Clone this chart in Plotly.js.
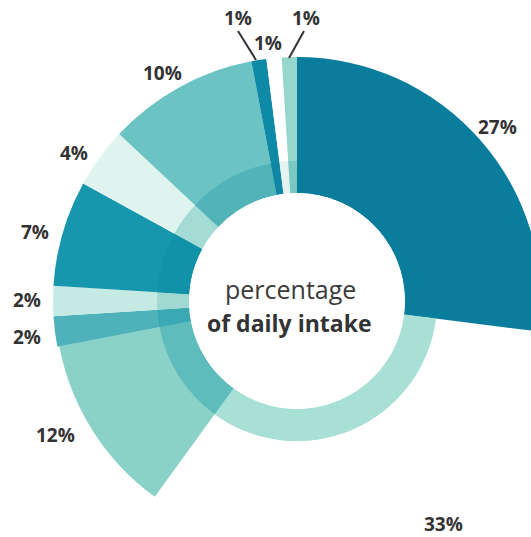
<!DOCTYPE html>
<html>
<head>
<meta charset="utf-8">
<script src="https://cdn.plot.ly/plotly-3.0.1.min.js"></script>
<style>
html,body{margin:0;padding:0;overflow:hidden;background:#fff;width:531px;height:537px;}
#wrap{position:absolute;left:0;top:0;width:531px;height:537px;overflow:hidden;}
#chart{width:560px;height:560px;}
</style>
</head>
<body>
<div id="wrap"><div id="chart"></div></div>
<script>
// Data
const labels = ['27%','33%','12%','2%','2%','7%','4%','10%','1%','1%','1%'];
const percentages = [27,33,12,2,2,7,4,10,1,1,1];
const lengths = [136,32,134,136,136,136,136,136,136,136,136];
const outerColors = ['#0b7d9c','#a8e0d5','#8ad2c7','#4fb2ba','#c4eae3','#1797ad','#e0f4ef','#6cc3c3','#0f8aa6','#ffffff','#95d6cd'];
const innerColors = ['#0b7d9c','#a8e0d5','#5ebcbc','#3ba9b3','#9fd9d2','#1292a9','#a4dcd5','#52b4b9','#0f86a3','#e4f3f0','#7ac8c1'];
const ringDepth = 32;

// angular positions built from the percentages
const widths = percentages.map(p => p * 3.6);
const thetas = [];
let cum = 0;
percentages.forEach(p => { thetas.push((cum + p / 2) * 3.6); cum += p; });

const W = 560, H = 560;
const px = (x) => x / W;
const py = (y) => 1 - y / H;

const outer = {
  type: 'barpolar',
  r: lengths,
  theta: thetas,
  width: widths,
  marker: {color: outerColors, line: {width: 0}},
  hoverinfo: 'none'
};
const inner = {
  type: 'barpolar',
  r: lengths.map(() => ringDepth),
  theta: thetas,
  width: widths,
  marker: {color: innerColors, line: {width: 0}},
  hoverinfo: 'none'
};

const labelPos = [[497,127],[443,524],[55,435],[27,337],[27,300],[35,232],[74,153],[162,73],[238,18],[268,43],[306,18]];
const font = {family: 'Open Sans, Lato, sans-serif', size: 19, color: '#333333', weight: 700};
const base = {xref: 'paper', yref: 'paper', showarrow: false, xanchor: 'center', yanchor: 'middle'};
const annotations = labels.map((t, i) => Object.assign({
  text: '<b>' + t + '</b>', x: px(labelPos[i][0]), y: py(labelPos[i][1]), font: font
}, base));
annotations.push(Object.assign({text: 'percentage', x: px(290), y: py(289),
  font: {family: 'Open Sans, Lato, sans-serif', size: 25, color: '#3a3a3a'}}, base));
annotations.push(Object.assign({text: '<b>of daily intake</b>', x: px(289), y: py(323),
  font: {family: 'Open Sans, Lato, sans-serif', size: 23, color: '#333333'}}, base));

const shapes = [
  {type: 'line', xref: 'paper', yref: 'paper', x0: px(238), y0: py(31), x1: px(256), y1: py(60), line: {color: '#333333', width: 2}},
  {type: 'line', xref: 'paper', yref: 'paper', x0: px(304), y0: py(31), x1: px(289), y1: py(58), line: {color: '#333333', width: 2}}
];

const layout = {
  width: W, height: H,
  margin: {l: 0, r: 0, t: 0, b: 0},
  paper_bgcolor: '#ffffff',
  showlegend: false,
  polar: {
    domain: {x: [47 / W, 547 / W], y: [1 - 551 / H, 1 - 51 / H]},
    hole: 108 / 250,
    barmode: 'overlay',
    bgcolor: 'rgba(0,0,0,0)',
    radialaxis: {range: [0, 142], visible: false, showgrid: false},
    angularaxis: {visible: false, direction: 'clockwise', rotation: 90, showgrid: false}
  },
  annotations: annotations,
  shapes: shapes
};

Plotly.newPlot('chart', [outer, inner], layout, {displayModeBar: false, staticPlot: true});
</script>
</body>
</html>
